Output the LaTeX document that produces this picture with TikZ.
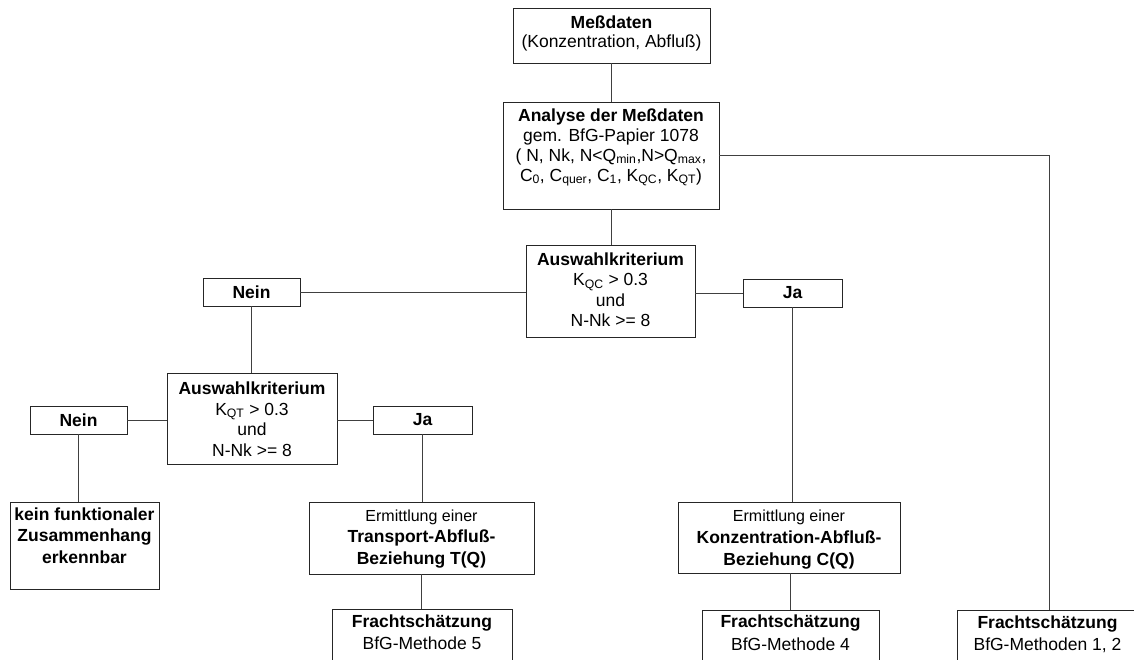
\documentclass[tikz,border=0pt]{standalone}
\usepackage{fontspec}
\setmainfont{Liberation Sans}
\newcommand\fl{\rule{0pt}{13pt}}
\newcommand\sub[1]{\textsubscript{#1}}
\tikzset{
  bx/.style={draw=black!85, line width=1pt, inner sep=0pt, outer sep=0pt, rectangle},
  ln/.style={draw=black!75, line width=1pt},
  txt/.style={anchor=north, align=center, inner sep=0pt, outer sep=0pt, font=\fontsize{17.5}{21}\selectfont},
  smalltxt/.style={font=\fontsize{17.5}{20.5}\selectfont},
}
\newcommand\bxx[5]{\node[bx, minimum width={#4-#2}, minimum height={#5-#3}] (#1) at ({(#2+#4)/2},{(#3+#5)/2}) {};}
\begin{document}
\begin{tikzpicture}[x=1pt,y=-1pt]
\useasboundingbox (0,0) rectangle (1134,659);
\clip (0,0) rectangle (1134,659);
\fill[white] (0,0) rectangle (1134,659);
% boxes
\bxx{mess}{513}{8}{710}{63}
\bxx{ana}{503}{102}{719}{209}
\bxx{aus1}{526}{245}{695}{337}
\bxx{aus2}{167}{373}{337}{464}
\bxx{kein}{10}{502}{159}{589}
\bxx{trans}{309}{502}{534}{574}
\bxx{konz}{678}{502}{900}{573}
\bxx{f5}{332}{609}{512}{700}
\bxx{f4}{702}{610}{879}{700}
\bxx{f12}{957}{610}{1141}{700}
\node[bx, minimum width=97, minimum height=28, font=\fontsize{17.5}{21}\selectfont\bfseries] (nein1) at (251.5,292) {Nein};
\node[bx, minimum width=99, minimum height=28, font=\fontsize{17.5}{21}\selectfont\bfseries] (ja1) at (792.5,293) {Ja};
\node[bx, minimum width=97, minimum height=28, font=\fontsize{17.5}{21}\selectfont\bfseries] (nein2) at (78.5,420) {Nein};
\node[bx, minimum width=99, minimum height=28, font=\fontsize{17.5}{21}\selectfont\bfseries] (ja2) at (422.5,420) {Ja};
% texts
\node[txt, font=\fontsize{17.5}{19}\selectfont] (tmess) at (611.5,15) {\fl\textbf{Meßdaten}\\(Konzentration, Abfluß)};
\node[txt, font=\fontsize{17.5}{20}\selectfont] (tana) at (611,108) {\fl\textbf{Analyse der Meßdaten}\\gem. BfG-Papier 1078\\( N, Nk, N<Q\sub{min},N>Q\sub{max},\\C\sub{0}, C\sub{quer}, C\sub{1}, K\sub{QC}, K\sub{QT})};
\node[txt, smalltxt] (taus1) at (610.5,252) {\fl\textbf{Auswahlkriterium}\\K\sub{QC} > 0.3\\und\\N-Nk >= 8};
\node[txt, smalltxt] (taus2) at (252,381.5) {\fl\textbf{Auswahlkriterium}\\K\sub{QT} > 0.3\\und\\N-Nk >= 8};
\node[txt, font=\fontsize{17.5}{21.5}\selectfont\bfseries] (tkein) at (84.5,507) {\fl kein funktionaler\\Zusammenhang\\erkennbar};
\node[txt, font=\fontsize{17.5}{21.5}\selectfont] (ttrans) at (421.5,508) {\fl{\fontsize{16}{21}\selectfont Ermittlung einer}\\\textbf{Transport-Abfluß-}\\\textbf{Beziehung T(Q)}};
\node[txt, font=\fontsize{17.5}{22}\selectfont] (tkonz) at (789,508) {\fl{\fontsize{16}{21}\selectfont Ermittlung einer}\\\textbf{Konzentration-Abfluß-}\\\textbf{Beziehung C(Q)}};
\node[txt, font=\fontsize{17.5}{22.5}\selectfont] (tf5) at (422,614) {\fl\textbf{Frachtschätzung}\\BfG-Methode 5};
\node[txt, font=\fontsize{17.5}{22.5}\selectfont] (tf4) at (790.5,614.5) {\fl\textbf{Frachtschätzung}\\BfG-Methode 4};
\node[txt, font=\fontsize{17.5}{22.5}\selectfont] (tf12) at (1047.5,615) {\fl\textbf{Frachtschätzung}\\BfG-Methoden 1, 2};
% connectors
\draw[ln] (mess.south) -- (mess.south |- ana.north);
\draw[ln] (ana.south) -- (ana.south |- aus1.north);
\draw[ln] (ana.east) -- (f12.north |- ana.east) -- (f12.north);
\draw[ln] (nein1.east) -- (nein1.east -| aus1.west);
\draw[ln] (ja1.west -| aus1.east) -- (ja1.west);
\draw[ln] (nein1.south) -- (nein1.south |- aus2.north);
\draw[ln] (nein2.east) -- (nein2.east -| aus2.west);
\draw[ln] (ja2.west -| aus2.east) -- (ja2.west);
\draw[ln] (nein2.south) -- (nein2.south |- kein.north);
\draw[ln] (ja2.south) -- (ja2.south |- trans.north);
\draw[ln] (ja1.south) -- (ja1.south |- konz.north);
\draw[ln] (trans.south) -- (trans.south |- f5.north);
\draw[ln] (f4.north |- konz.south) -- (f4.north);
\end{tikzpicture}
\end{document}
